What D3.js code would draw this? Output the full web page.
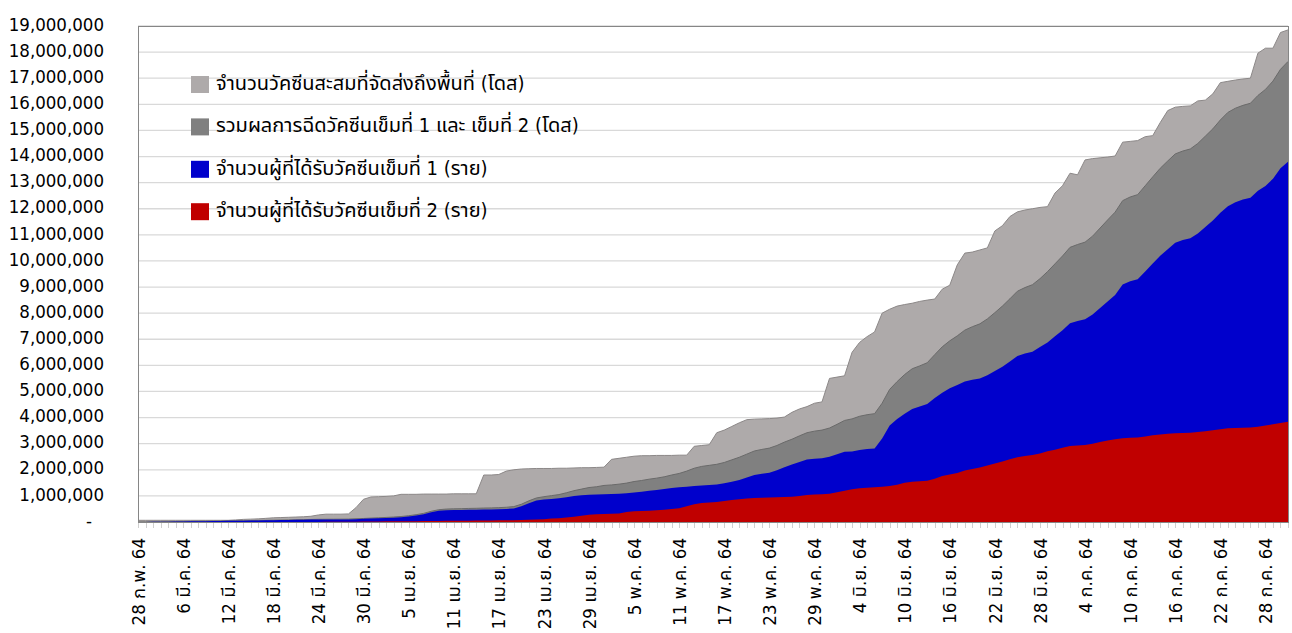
<!DOCTYPE html>
<html>
<head>
<meta charset="utf-8">
<script src="https://cdn.jsdelivr.net/npm/d3@7"></script>
<style>
  html, body { margin: 0; padding: 0; background: #fff; }
  svg { display: block; }
  text { font-family: "DejaVu Sans Condensed", "DejaVu Sans", "Noto Sans Thai", "Noto Sans", sans-serif; fill: #000; }
</style>
</head>
<body>
<svg id="chart" width="1292" height="633"></svg>
<script>
// ---------- DATA (millions; one value per day from 28 Feb 2021 to 31 Jul 2021) ----------
const startDate = "2021-02-28";
const dayCount = 154;

const seriesNames = [
  "จำนวนวัคซีนสะสมที่จัดส่งถึงพื้นที่ (โดส)",
  "รวมผลการฉีดวัคซีนเข็มที่ 1 และ เข็มที่ 2 (โดส)",
  "จำนวนผู้ที่ได้รับวัคซีนเข็มที่ 1 (ราย)",
  "จำนวนผู้ที่ได้รับวัคซีนเข็มที่ 2 (ราย)"
];

const delivered = [
  0.065,0.065,0.065,0.065,0.065,0.065,0.065,0.065,0.065,0.065,
  0.065,0.065,0.065,0.08,0.10,0.11,0.12,0.14,0.16,0.17,
  0.18,0.19,0.20,0.22,0.27,0.30,0.30,0.30,0.31,0.55,
  0.87,0.96,0.97,0.98,1.00,1.06,1.06,1.06,1.07,1.07,
  1.07,1.07,1.08,1.08,1.08,1.08,1.80,1.80,1.82,1.95,
  2.00,2.03,2.04,2.05,2.05,2.05,2.06,2.06,2.07,2.08,
  2.08,2.09,2.10,2.40,2.44,2.48,2.52,2.54,2.54,2.55,
  2.55,2.55,2.56,2.56,2.90,2.93,2.96,3.42,3.52,3.66,
  3.80,3.92,3.94,3.95,3.96,3.98,4.02,4.20,4.33,4.42,
  4.55,4.60,5.50,5.55,5.60,6.50,6.88,7.10,7.28,8.00,
  8.15,8.27,8.33,8.38,8.45,8.50,8.54,8.92,9.07,9.85,
  10.30,10.34,10.42,10.50,11.15,11.35,11.70,11.88,11.95,12.00,
  12.05,12.08,12.60,12.88,13.36,13.30,13.87,13.92,13.95,13.98,
  14.02,14.55,14.58,14.61,14.76,14.80,15.30,15.76,15.89,15.92,
  15.94,16.13,16.16,16.40,16.83,16.88,16.93,16.97,17.00,17.96,
  18.15,18.15,18.75,18.85
];

const totalDoses = [
  0.001,0.003,0.005,0.008,0.012,0.015,0.020,0.025,0.030,0.033,
  0.036,0.040,0.045,0.050,0.052,0.055,0.060,0.065,0.070,0.075,
  0.080,0.086,0.092,0.098,0.104,0.106,0.108,0.110,0.112,0.125,
  0.135,0.150,0.160,0.175,0.190,0.210,0.240,0.280,0.330,0.410,
  0.470,0.495,0.505,0.510,0.520,0.525,0.535,0.540,0.550,0.565,
  0.590,0.680,0.810,0.920,0.970,1.010,1.050,1.120,1.200,1.260,
  1.320,1.350,1.400,1.420,1.450,1.490,1.550,1.590,1.640,1.680,
  1.730,1.800,1.860,1.950,2.060,2.130,2.170,2.210,2.280,2.380,
  2.480,2.600,2.720,2.780,2.830,2.930,3.060,3.170,3.300,3.420,
  3.480,3.520,3.600,3.740,3.890,3.950,4.050,4.110,4.150,4.550,
  5.080,5.380,5.650,5.870,5.980,6.100,6.410,6.710,6.940,7.130,
  7.350,7.480,7.590,7.780,8.020,8.270,8.550,8.840,8.980,9.090,
  9.320,9.590,9.890,10.190,10.520,10.630,10.720,10.950,11.260,11.570,
  11.870,12.310,12.450,12.540,12.880,13.220,13.550,13.830,14.100,14.210,
  14.290,14.500,14.780,15.060,15.400,15.690,15.850,15.960,16.040,16.340,
  16.570,16.890,17.340,17.640
];

const firstDose = [
  0.001,0.003,0.005,0.008,0.012,0.015,0.020,0.025,0.030,0.033,
  0.036,0.040,0.045,0.050,0.052,0.055,0.060,0.065,0.070,0.075,
  0.080,0.085,0.090,0.095,0.100,0.100,0.100,0.100,0.100,0.110,
  0.120,0.130,0.140,0.150,0.160,0.180,0.210,0.250,0.300,0.370,
  0.430,0.450,0.460,0.460,0.470,0.470,0.480,0.480,0.490,0.500,
  0.520,0.600,0.720,0.820,0.860,0.880,0.910,0.950,1.000,1.020,
  1.040,1.050,1.060,1.070,1.080,1.100,1.130,1.160,1.200,1.230,
  1.260,1.300,1.330,1.350,1.380,1.400,1.420,1.440,1.480,1.540,
  1.610,1.700,1.800,1.850,1.890,1.980,2.100,2.200,2.300,2.390,
  2.420,2.440,2.500,2.600,2.690,2.700,2.760,2.800,2.820,3.200,
  3.700,3.950,4.150,4.330,4.420,4.520,4.750,4.950,5.120,5.250,
  5.380,5.450,5.500,5.620,5.780,5.950,6.150,6.360,6.450,6.520,
  6.700,6.880,7.120,7.350,7.610,7.700,7.770,7.950,8.200,8.450,
  8.700,9.100,9.220,9.300,9.600,9.900,10.200,10.450,10.700,10.800,
  10.870,11.050,11.300,11.550,11.850,12.100,12.250,12.350,12.420,12.690,
  12.870,13.150,13.550,13.800
];

const secondDose = [
  0,0,0,0,0,0,0,0,0,0,
  0,0,0,0,0,0,0,0,0,0,
  0,0.001,0.002,0.003,0.004,0.006,0.007,0.008,0.009,0.010,
  0.015,0.020,0.022,0.024,0.026,0.028,0.030,0.032,0.035,0.038,
  0.040,0.045,0.048,0.050,0.052,0.055,0.058,0.060,0.063,0.066,
  0.070,0.080,0.090,0.100,0.110,0.130,0.140,0.170,0.200,0.240,
  0.280,0.300,0.310,0.320,0.330,0.380,0.410,0.420,0.430,0.450,
  0.470,0.500,0.530,0.600,0.680,0.730,0.750,0.770,0.800,0.840,
  0.870,0.900,0.920,0.930,0.940,0.950,0.960,0.970,1.000,1.030,
  1.050,1.060,1.080,1.140,1.200,1.250,1.290,1.310,1.330,1.350,
  1.380,1.430,1.500,1.540,1.560,1.580,1.660,1.760,1.820,1.880,
  1.970,2.030,2.090,2.160,2.240,2.320,2.400,2.480,2.530,2.570,
  2.620,2.710,2.770,2.840,2.910,2.930,2.950,3.000,3.060,3.120,
  3.170,3.210,3.230,3.240,3.280,3.320,3.350,3.380,3.400,3.410,
  3.420,3.450,3.480,3.510,3.550,3.590,3.600,3.610,3.620,3.650,
  3.700,3.740,3.790,3.840
];

const yTicks = [0,1,2,3,4,5,6,7,8,9,10,11,12,13,14,15,16,17,18,19];
const xTickIndex = [0,6,12,18,24,30,36,42,48,54,60,66,72,78,84,90,96,102,108,114,120,126,132,138,144,150];
const xTickLabels = [
  "28 ก.พ. 64","6 มี.ค. 64","12 มี.ค. 64","18 มี.ค. 64","24 มี.ค. 64","30 มี.ค. 64",
  "5 เม.ย. 64","11 เม.ย. 64","17 เม.ย. 64","23 เม.ย. 64","29 เม.ย. 64",
  "5 พ.ค. 64","11 พ.ค. 64","17 พ.ค. 64","23 พ.ค. 64","29 พ.ค. 64",
  "4 มิ.ย. 64","10 มิ.ย. 64","16 มิ.ย. 64","22 มิ.ย. 64","28 มิ.ย. 64",
  "4 ก.ค. 64","10 ก.ค. 64","16 ก.ค. 64","22 ก.ค. 64","28 ก.ค. 64"
];

const colors = ["#AEAAAA", "#808080", "#0000CC", "#C00000"];
const strokes = ["#8C8888", "#6A6A6A", "#0000CC", "#C00000"];

// ---------- DRAW ----------
const svg = d3.select("#chart");
const plot = { left: 138, right: 1288, top: 26, bottom: 522 };

const x = d3.scaleLinear().domain([0, dayCount - 1]).range([plot.left, plot.right]);
const y = d3.scaleLinear().domain([0, 19]).range([plot.bottom, plot.top]);

// gridlines
svg.append("g").selectAll("line").data(yTicks.filter(d => d > 0)).join("line")
  .attr("x1", plot.left).attr("x2", plot.right)
  .attr("y1", d => y(d)).attr("y2", d => y(d))
  .attr("stroke", "#D9D9D9").attr("stroke-width", 1.3);

// y labels
const fmt = d3.format(",");
svg.append("g").selectAll("text").data(yTicks).join("text")
  .attr("x", d => d === 0 ? 92 : 104)
  .attr("y", d => y(d) - 2)
  .attr("dy", "0.36em")
  .attr("text-anchor", "end")
  .style("font-size", "18.5px")
  .text(d => d === 0 ? "-" : fmt(d * 1e6));

// areas
const seriesData = [delivered, totalDoses, firstDose, secondDose];
const area = d3.area()
  .x((d, i) => x(i))
  .y0(y(0))
  .y1(d => y(d));
const line = d3.line().x((d, i) => x(i)).y(d => y(d));

seriesData.forEach((s, k) => {
  svg.append("path").datum(s)
    .attr("d", area)
    .attr("fill", colors[k]);
  if (k < 2) {
    svg.append("path").datum(s)
      .attr("d", line)
      .attr("fill", "none")
      .attr("stroke", strokes[k])
      .attr("stroke-width", 1);
  }
});

// x axis line and daily ticks
svg.append("line")
  .attr("x1", plot.left).attr("x2", plot.right)
  .attr("y1", plot.bottom + 0.5).attr("y2", plot.bottom + 0.5)
  .attr("stroke", "#D9D9D9").attr("stroke-width", 1);
svg.append("g").selectAll("line").data(d3.range(dayCount)).join("line")
  .attr("x1", d => Math.round(x(d)) + 0.5).attr("x2", d => Math.round(x(d)) + 0.5)
  .attr("y1", plot.bottom + 1).attr("y2", plot.bottom + 6)
  .attr("stroke", "#D0D0D0").attr("stroke-width", 1);

// plot frame
svg.append("rect")
  .attr("x", plot.left + 0.5).attr("y", plot.top + 0.5)
  .attr("width", plot.right - plot.left).attr("height", plot.bottom - plot.top)
  .attr("fill", "none").attr("stroke", "#868686").attr("stroke-width", 1);

// x labels
svg.append("g").selectAll("text").data(xTickIndex).join("text")
  .attr("transform", d => `translate(${x(d)},538) rotate(-90)`)
  .attr("dy", "0.36em")
  .attr("text-anchor", "end")
  .style("font-size", "18.5px")
  .text((d, i) => xTickLabels[i]);

// legend
const legend = svg.append("g");
seriesNames.forEach((name, k) => {
  const cy = 84.5 + k * 42.4;
  legend.append("rect")
    .attr("x", 191).attr("y", cy - 8.5)
    .attr("width", 18).attr("height", 17)
    .attr("fill", colors[k]);
  legend.append("text")
    .attr("x", 216).attr("y", cy + 5.5)
    .style("font-size", "20px")
    .text(name);
});
</script>
</body>
</html>
